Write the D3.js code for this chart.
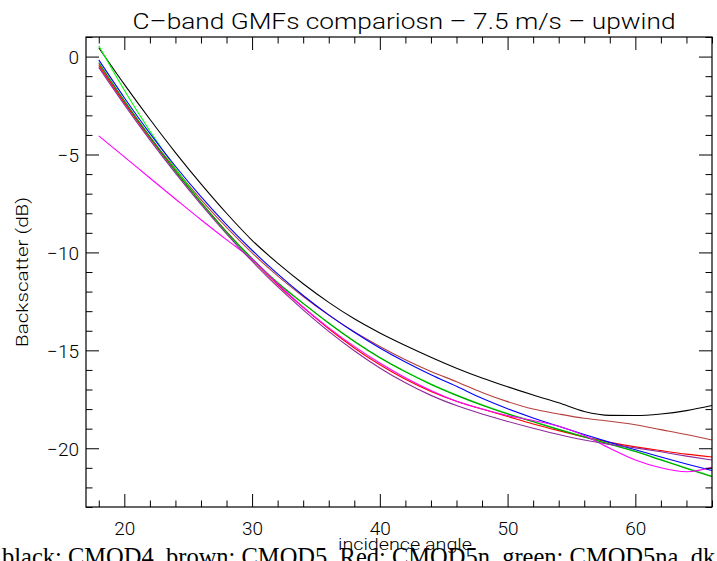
<!DOCTYPE html>
<html>
<head>
<meta charset="utf-8">
<script src="https://cdn.jsdelivr.net/npm/d3@7"></script>
<style>
  html, body { margin: 0; padding: 0; background: #fff; }
  svg { display: block; }
  text { fill: #000; }
</style>
</head>
<body>
<svg id="chart" width="717" height="561"></svg>
<script>
// ---------- data ----------
const angles = [18,20,22,24,26,28,30,32,34,36,38,40,42,44,46,48,50,52,54,56,58,60,62,64,66];

const cmod4   = [0.45,-1.42,-3.2,-4.9,-6.5,-8.0,-9.38,-10.55,-11.6,-12.55,-13.39,-14.11,-14.75,-15.35,-15.91,-16.41,-16.86,-17.28,-17.68,-18.12,-18.32,-18.33,-18.25,-18.08,-17.82];
const cmod5   = [-0.35,-2.27,-4.08,-5.75,-7.3,-8.72,-10.02,-11.2,-12.25,-13.2,-14.05,-14.8,-15.48,-16.08,-16.6,-17.15,-17.62,-18.0,-18.25,-18.47,-18.62,-18.8,-19.05,-19.3,-19.58];
const cmod5n  = [-0.45,-2.35,-4.15,-5.85,-7.45,-8.95,-10.35,-11.65,-12.8,-13.9,-14.88,-15.74,-16.48,-17.1,-17.6,-18.0,-18.38,-18.76,-19.1,-19.42,-19.7,-19.93,-20.12,-20.3,-20.45];
const cmod5na = [0.55,-1.72,-3.8,-5.7,-7.45,-9.0,-10.35,-11.55,-12.6,-13.6,-14.53,-15.36,-16.08,-16.72,-17.28,-17.78,-18.23,-18.63,-19.03,-19.41,-19.78,-20.15,-20.58,-21.01,-21.43];
const dkgreen = [-0.3,-2.25,-4.1,-5.85,-7.45,-8.95,-10.3,-11.55,-12.6,-13.62,-14.55,-15.38,-16.1,-16.74,-17.3,-17.8,-18.25,-18.65,-19.05,-19.43,-19.8,-20.17,-20.6,-21.03,-21.45];
const blue    = [-0.17,-2.1,-3.92,-5.6,-7.15,-8.58,-9.89,-11.1,-12.2,-13.19,-14.08,-14.88,-15.6,-16.25,-16.84,-17.45,-17.98,-18.45,-18.88,-19.3,-19.7,-20.08,-20.45,-20.8,-21.14];
const magenta = [-4.05,-5.12,-6.2,-7.27,-8.33,-9.35,-10.35,-11.6,-12.8,-13.85,-14.8,-15.65,-16.4,-17.05,-17.6,-18.0,-18.33,-18.58,-18.88,-19.35,-20.0,-20.6,-21.0,-21.2,-20.97];
const purple  = [-0.55,-2.45,-4.25,-5.95,-7.55,-9.05,-10.45,-11.75,-12.93,-14.03,-15.02,-15.9,-16.66,-17.3,-17.82,-18.25,-18.63,-18.98,-19.3,-19.58,-19.8,-19.98,-20.18,-20.4,-20.6];

const seriesList = [
  {name: "CMOD4",   values: cmod4,   color: "#000000"},
  {name: "CMOD5",   values: cmod5,   color: "#b4403c"},
  {name: "CMOD5n",  values: cmod5n,  color: "#ff0000"},
  {name: "CMOD5na", values: cmod5na, color: "#00ff00"},
  {name: "dkgreen", values: dkgreen, color: "#00a000"},
  {name: "blue",    values: blue,    color: "#0000ff"},
  {name: "magenta", values: magenta, color: "#ff00ff"},
  {name: "purple",  values: purple,  color: "#8c2a9c"}
];

const xTicks = [20,30,40,50,60];
const yTicks = [0,-5,-10,-15,-20];
const xMinor = d3.range(18, 67, 2);
const yMinor = d3.range(-23, 2, 1);

const titleText = "C\u2013band GMFs compariosn \u2013 7.5 m/s \u2013 upwind";
const xLabel = "incidence angle";
const yLabel = "Backscatter (dB)";
const noteText = "black: CMOD4, brown: CMOD5, Red: CMOD5n, green: CMOD5na, dk";

// ---------- layout ----------
const W = 717, H = 561;
const L = 86, R = 712, T = 37, B = 507;
const svg = d3.select("#chart");

const x = d3.scaleLinear().domain([17, 66]).range([L, R]);
const y = d3.scaleLinear().domain([-23, 1]).range([B, T]);

const fontSans = "Roboto, 'Liberation Sans', Arial, sans-serif";
const fontW = 300;

// ---------- lines ----------
const line = d3.line()
  .x((d, i) => x(angles[i]))
  .y(d => y(d))
  .curve(d3.curveMonotoneX);

svg.append("g").selectAll("path")
  .data(seriesList)
  .join("path")
  .attr("d", s => line(s.values))
  .attr("fill", "none")
  .attr("stroke", s => s.color)
  .attr("stroke-width", 1.1);

// ---------- axes (ticks inward) ----------
function styleAxis(g) {
  g.select(".domain").remove();
  g.selectAll("line").attr("stroke", "#000").attr("stroke-width", 1);
}
const gB = svg.append("g").attr("transform", `translate(0,${B})`)
  .call(d3.axisBottom(x).tickValues(xTicks).tickSize(-13).tickPadding(15).tickFormat(d3.format("d")));
styleAxis(gB);
gB.selectAll("text").attr("font-family", fontSans).attr("font-weight", fontW).attr("font-size", 19).attr("dy", null)
  .attr("y", 28);
const gBm = svg.append("g").attr("transform", `translate(0,${B})`)
  .call(d3.axisBottom(x).tickValues(xMinor.filter(v => !xTicks.includes(v))).tickSize(-6.5).tickFormat(""));
styleAxis(gBm);
const gT = svg.append("g").attr("transform", `translate(0,${T})`)
  .call(d3.axisTop(x).tickValues(xTicks).tickSize(-13).tickFormat(""));
styleAxis(gT);
const gTm = svg.append("g").attr("transform", `translate(0,${T})`)
  .call(d3.axisTop(x).tickValues(xMinor.filter(v => !xTicks.includes(v))).tickSize(-6.5).tickFormat(""));
styleAxis(gTm);
const fmtY = d => (d < 0 ? "\u2212" + Math.abs(d) : String(d));
const gL = svg.append("g").attr("transform", `translate(${L},0)`)
  .call(d3.axisLeft(y).tickValues(yTicks).tickSize(-13).tickPadding(7).tickFormat(fmtY));
styleAxis(gL);
gL.selectAll("text").attr("font-family", fontSans).attr("font-weight", fontW).attr("font-size", 19).attr("x", -7).attr("dy", "0.36em");
const gLm = svg.append("g").attr("transform", `translate(${L},0)`)
  .call(d3.axisLeft(y).tickValues(yMinor.filter(v => !yTicks.includes(v))).tickSize(-6.5).tickFormat(""));
styleAxis(gLm);
const gR = svg.append("g").attr("transform", `translate(${R},0)`)
  .call(d3.axisRight(y).tickValues(yTicks).tickSize(-13).tickFormat(""));
styleAxis(gR);
const gRm = svg.append("g").attr("transform", `translate(${R},0)`)
  .call(d3.axisRight(y).tickValues(yMinor.filter(v => !yTicks.includes(v))).tickSize(-6.5).tickFormat(""));
styleAxis(gRm);

svg.append("rect")
  .attr("x", L).attr("y", T).attr("width", R - L).attr("height", B - T)
  .attr("fill", "none").attr("stroke", "#000").attr("stroke-width", 1.2);

// ---------- texts ----------
svg.append("text")
  .attr("x", 404).attr("y", 28.5)
  .attr("text-anchor", "middle")
  .attr("font-family", fontSans).attr("font-weight", fontW).attr("font-size", 22)
  .attr("textLength", 543).attr("lengthAdjust", "spacingAndGlyphs")
  .text(titleText);

svg.append("text")
  .attr("transform", `translate(28,272) rotate(-90)`)
  .attr("text-anchor", "middle")
  .attr("font-family", fontSans).attr("font-weight", fontW).attr("font-size", 17)
  .attr("textLength", 150).attr("lengthAdjust", "spacingAndGlyphs")
  .text(yLabel);

svg.append("text")
  .attr("x", 2).attr("y", 565)
  .attr("font-family", "'Liberation Serif', 'Times New Roman', serif").attr("font-size", 24.5)
  .text(noteText);

svg.append("text")
  .attr("x", 405).attr("y", 550)
  .attr("text-anchor", "middle")
  .attr("font-family", fontSans).attr("font-weight", fontW).attr("font-size", 17)
  .attr("textLength", 134).attr("lengthAdjust", "spacingAndGlyphs")
  .text(xLabel);
</script>
</body>
</html>
